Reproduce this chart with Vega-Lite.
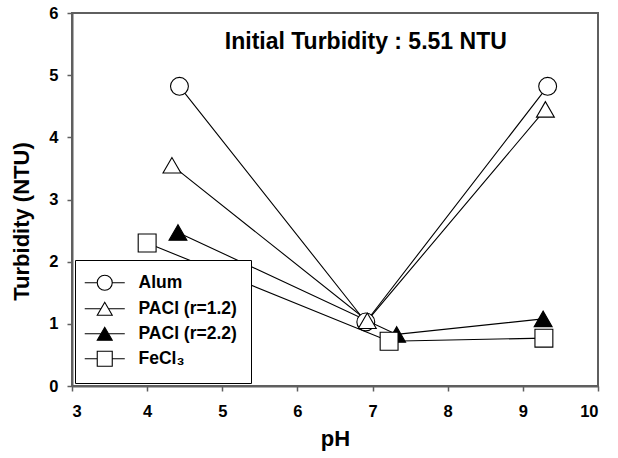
{
  "$schema": "https://vega.github.io/schema/vega-lite/v6.json",
  "width": 526,
  "height": 373,
  "autosize": {"type": "none"},
  "padding": {"left": 72, "top": 13, "right": 20, "bottom": 72},
  "background": "white",
  "config": {
    "font": "Liberation Sans",
    "view": {"stroke": "#5f5f5f", "strokeWidth": 2},
    "axis": {
      "grid": false,
      "domainColor": "#5f5f5f",
      "domainWidth": 2,
      "tickColor": "#5f5f5f",
      "tickWidth": 1.5,
      "tickSize": 5,
      "labelFont": "Liberation Sans",
      "labelFontWeight": "bold",
      "labelFontSize": 16.5,
      "labelColor": "black",
      "titleFont": "Liberation Sans",
      "titleFontWeight": "bold",
      "titleFontSize": 22,
      "titleColor": "black"
    }
  },
  "data": {
    "values": [
      {"coagulant": "Alum", "pH": 4.43, "turbidity": 4.82},
      {"coagulant": "Alum", "pH": 6.91, "turbidity": 1.03},
      {"coagulant": "Alum", "pH": 9.33, "turbidity": 4.82},
      {"coagulant": "PACl (r=1.2)", "pH": 4.33, "turbidity": 3.55},
      {"coagulant": "PACl (r=1.2)", "pH": 6.93, "turbidity": 1.05},
      {"coagulant": "PACl (r=1.2)", "pH": 9.30, "turbidity": 4.45},
      {"coagulant": "PACl (r=2.2)", "pH": 4.41, "turbidity": 2.47},
      {"coagulant": "PACl (r=2.2)", "pH": 7.32, "turbidity": 0.83},
      {"coagulant": "PACl (r=2.2)", "pH": 9.27, "turbidity": 1.08},
      {"coagulant": "FeCl₃", "pH": 4.00, "turbidity": 2.30},
      {"coagulant": "FeCl₃", "pH": 7.22, "turbidity": 0.72},
      {"coagulant": "FeCl₃", "pH": 9.28, "turbidity": 0.77}
    ]
  },
  "resolve": {
    "scale": {"shape": "independent", "fill": "independent"},
    "legend": {"shape": "independent", "fill": "independent"}
  },
  "layer": [
    {
      "mark": {"type": "line", "color": "black", "strokeWidth": 1.1},
      "encoding": {
        "x": {
          "field": "pH",
          "type": "quantitative",
          "scale": {"domain": [3, 10], "nice": false},
          "axis": {"values": [3, 4, 5, 6, 7, 8, 9, 10], "format": "d", "title": "pH", "labelPadding": 12, "titlePadding": 9}
        },
        "y": {
          "field": "turbidity",
          "type": "quantitative",
          "scale": {"domain": [0, 6], "nice": false},
          "axis": {"values": [0, 1, 2, 3, 4, 5, 6], "format": "d", "title": "Turbidity (NTU)", "labelPadding": 9, "titlePadding": 15, "titleY": 208}
        },
        "detail": {"field": "coagulant"}
      }
    },
    {
      "mark": {"type": "point", "stroke": "black", "strokeWidth": 1.1, "size": 225, "opacity": 0},
      "encoding": {
        "x": {"field": "pH", "type": "quantitative"},
        "y": {"field": "turbidity", "type": "quantitative"},
        "shape": {
          "field": "coagulant",
          "type": "nominal",
          "scale": {
            "domain": ["Alum", "PACl (r=1.2)", "PACl (r=2.2)", "FeCl₃"],
            "range": [
              "M-2.67,0H-1M1,0H2.67M-1,0A1,1 0 1,1 1,0A1,1 0 1,1 -1,0Z",
              "M-2.67,0H-0.5M0.5,0H2.67M0,-0.866L-1,0.866L1,0.866Z",
              "M-2.67,0H-0.5M0.5,0H2.67M0,-0.866L-1,0.866L1,0.866Z",
              "M-2.67,0H-1M1,0H2.67M-1,-1H1V1H-1Z"
            ]
          },
          "legend": {
            "title": null,
            "orient": "bottom-left",
            "offset": 3,
            "padding": 14,
            "fillColor": "white",
            "strokeColor": "black",
            "labelFont": "Liberation Sans",
            "labelFontSize": 17.5,
            "labelFontWeight": "bold",
            "labelColor": "black",
            "symbolSize": 225,
            "symbolStrokeWidth": 1.1,
            "symbolOpacity": 1,
            "symbolOffset": 7,
            "labelOffset": 25,
            "rowPadding": 6,
            "encode": {"legend": {"strokeWidth": {"value": 1.5}}}
          }
        },
        "fill": {
          "field": "coagulant",
          "type": "nominal",
          "scale": {
            "domain": ["Alum", "PACl (r=1.2)", "PACl (r=2.2)", "FeCl₃"],
            "range": ["white", "white", "black", "white"]
          },
          "legend": {
            "title": null,
            "orient": "bottom-left",
            "offset": 3,
            "padding": 14,
            "fillColor": "white",
            "strokeColor": "black",
            "labelFont": "Liberation Sans",
            "labelFontSize": 17.5,
            "labelFontWeight": "bold",
            "labelColor": "black",
            "symbolSize": 225,
            "symbolStrokeWidth": 1.1,
            "symbolOpacity": 1,
            "symbolOffset": 7,
            "labelOffset": 25,
            "rowPadding": 6,
            "encode": {"legend": {"strokeWidth": {"value": 1.5}}}
          }
        }
      }
    },
    {
      "mark": {"type": "point", "stroke": "black", "strokeWidth": 1.1, "size": 320, "opacity": 1},
      "encoding": {
        "x": {"field": "pH", "type": "quantitative"},
        "y": {"field": "turbidity", "type": "quantitative"},
        "shape": {
          "field": "coagulant",
          "type": "nominal",
          "scale": {
            "domain": ["Alum", "PACl (r=1.2)", "PACl (r=2.2)", "FeCl₃"],
            "range": ["circle", "triangle-up", "triangle-up", "square"]
          },
          "legend": null
        },
        "fill": {
          "condition": {"test": "datum.coagulant === 'PACl (r=2.2)'", "value": "black"},
          "value": "white"
        }
      }
    },
    {
      "data": {"values": [{"note": "Initial Turbidity : 5.51 NTU"}]},
      "mark": {"type": "text", "font": "Liberation Sans", "fontSize": 23, "fontWeight": "bold", "color": "black", "baseline": "middle"},
      "encoding": {
        "x": {"datum": 6.91, "type": "quantitative"},
        "y": {"datum": 5.53, "type": "quantitative"},
        "text": {"field": "note"}
      }
    }
  ]
}
